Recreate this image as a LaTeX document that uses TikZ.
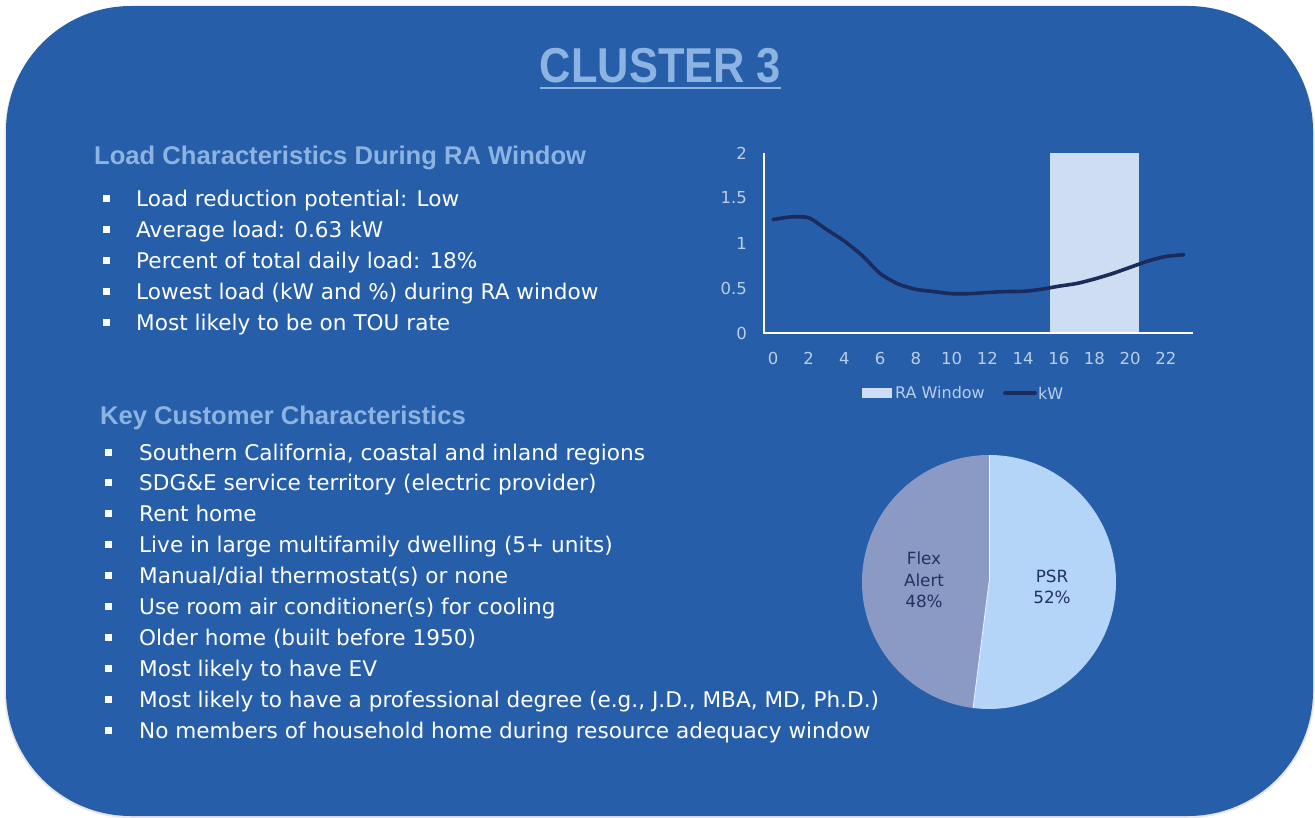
\documentclass[tikz,border=0pt]{standalone}
\usepackage{fontspec}
\setmainfont{DejaVu Sans}
\newfontfamily\headfont{Liberation Sans}
\definecolor{bgblue}{HTML}{265EAA}
\definecolor{titleblue}{HTML}{8DB3E2}
\definecolor{ticklab}{HTML}{BACDE9}
\definecolor{barfill}{HTML}{CFDDF2}
\definecolor{kwline}{HTML}{1B2C5C}
\definecolor{psrfill}{HTML}{B4D4F8}
\definecolor{flexfill}{HTML}{8A9AC5}
\definecolor{pielab}{HTML}{22335F}
\tikzset{
  bodytext/.style={anchor=base west, text=white, inner sep=0pt, font=\fontsize{21.6}{25}\selectfont},
  headtext/.style={anchor=base west, text=titleblue, inner sep=0pt, font=\headfont\bfseries\fontsize{25.6}{30}\selectfont},
  bulletbox/.style={fill=white, minimum size=7pt, inner sep=0pt, draw=none},
  ylab/.style={anchor=east, text=ticklab, inner sep=0pt, font=\fontsize{16.5}{19}\selectfont},
  xlab/.style={anchor=center, text=ticklab, inner sep=0pt, font=\fontsize{16.5}{19}\selectfont},
  pietext/.style={align=center, text=pielab, inner sep=0pt, font=\fontsize{16.8}{21.7}\selectfont},
}
\begin{document}
\begin{tikzpicture}[x=1pt,y=-1pt]
\useasboundingbox (0,0) rectangle (1315,818);
% shadow and panel
\fill[black!45, opacity=0.22, rounded corners=126pt] (4.5,8) rectangle (1314.5,818);
\fill[bgblue, rounded corners=125pt] (6,6) rectangle (1313,816);
% title
\node[anchor=base, text=titleblue, inner sep=0pt, font=\headfont\bfseries\fontsize{49}{55}\selectfont] (title) at (660.5,83) {\scalebox{0.886}[1]{CLUSTER 3}};
\draw[titleblue, line width=2pt] (540,88) -- (781,88);
% section 1
\node[headtext] (h1) at (94,165) {Load Characteristics During RA Window};
\foreach \t [count=\i from 0] in {Load reduction potential: Low, Average load: 0.63 kW, Percent of total daily load: 18\%, Lowest load (kW and \%) during RA window, Most likely to be on TOU rate}{
  \node[bulletbox] (b1-\i) at (106,207+31*\i-8) {};
  \node[bodytext] (t1-\i) at (136,207+31*\i) {\t};
}
% section 2
\node[headtext] (h2) at (100,424) {Key Customer Characteristics};
\foreach \t [count=\i from 0] in {{Southern California, coastal and inland regions}, SDG\&E service territory (electric provider), Rent home, Live in large multifamily dwelling (5+ units), Manual/dial thermostat(s) or none, Use room air conditioner(s) for cooling, Older home (built before 1950), Most likely to have EV, {Most likely to have a professional degree (e.g., J.D., MBA, MD, Ph.D.)}, No members of household home during resource adequacy window}{
  \node[bulletbox] (b2-\i) at (108.5,460+30.9*\i-8) {};
  \node[bodytext] (t2-\i) at (139,460+30.9*\i) {\t};
}
% chart
\begin{scope}[shift={(773,333)}, x=17.86pt, y=90pt]
  \fill[barfill] (15.5,0) rectangle (20.5,2);
  \draw[white, line width=1.6pt] (-0.5,2) -- (-0.5,0) -- (23.5,0);
  \foreach \v/\l in {0/0, 0.5/0.5, 1/1, 1.5/1.5, 2/2}{
    \node[ylab] (yl-\l) at (-1.45,\v) {\l};
  }
  \foreach \h in {0,2,...,22}{
    \node[xlab] (xl-\h) at (\h,-0.28) {\h};
  }
  \draw[kwline, line width=3.6pt, line join=round, line cap=round] plot[smooth, tension=0.4] coordinates {
    (0,1.26) (1,1.29) (2,1.28) (3,1.15) (4,1.02) (5,0.86) (6,0.66) (7,0.545)
    (8,0.485) (9,0.46) (10,0.437) (11,0.437) (12,0.45) (13,0.46) (14,0.463)
    (15,0.485) (16,0.52) (17,0.55) (18,0.60) (19,0.66) (20,0.73) (21,0.80)
    (22,0.85) (23,0.87)};
\end{scope}
% legend
\fill[barfill] (862,388) rectangle (892,398);
\node[anchor=west, text=ticklab, inner sep=0pt, font=\fontsize{16}{19}\selectfont] (lg1) at (895,393) {RA Window};
\draw[kwline, line width=3.6pt, line cap=round] (1005,393) -- (1035,393);
\node[anchor=west, text=ticklab, inner sep=0pt, font=\fontsize{16}{19}\selectfont] (lg2) at (1038,393) {kW};
% pie
\coordinate (pc) at (989,582);
\fill[psrfill] (pc) -- ++(-90:127) arc[start angle=-90, end angle=97.2, radius=127] -- cycle;
\fill[flexfill] (pc) -- ++(97.2:127) arc[start angle=97.2, end angle=270, radius=127] -- cycle;
\draw[white!80!psrfill, line width=0.8pt] (pc) -- ++(-90:127);
\draw[white!80!psrfill, line width=0.8pt] (pc) -- ++(97.2:127);
\node[pietext] (psr) at (1052,587) {PSR\\52\%};
\node[pietext] (flex) at (924,580) {Flex\\Alert\\48\%};
\end{tikzpicture}
\end{document}
